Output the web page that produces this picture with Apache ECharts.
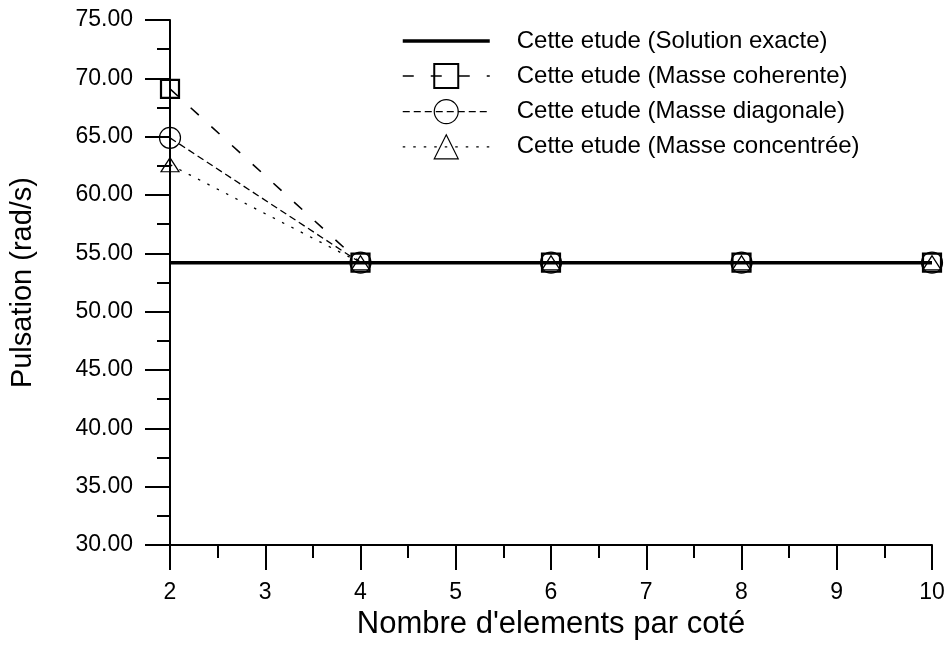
<!DOCTYPE html>
<html>
<head>
<meta charset="utf-8">
<script src="https://cdn.jsdelivr.net/npm/echarts@6/dist/echarts.min.js"></script>
<style>html,body{margin:0;padding:0;background:#fff}#c{width:948px;height:645px}</style>
</head>
<body>
<div id="c"></div>
<script>
const elements = [2, 4, 6, 8, 10];
const exacte = [54.2, 54.2, 54.2, 54.2, 54.2];
const coherente = [69.1, 54.2, 54.2, 54.2, 54.2];
const diagonale = [64.9, 54.2, 54.2, 54.2, 54.2];
const concentree = [62.6, 54.2, 54.2, 54.2, 54.2];
const seriesNames = [
  'Cette etude (Solution exacte)',
  'Cette etude (Masse coherente)',
  'Cette etude (Masse diagonale)',
  'Cette etude (Masse concentrée)'
];
const xTitle = "Nombre d'elements par coté";
const yTitle = 'Pulsation (rad/s)';

const pairs = arr => elements.map((x, i) => [x, arr[i]]);
const FONT = '"Liberation Sans", Arial, sans-serif';
const clear = 'rgba(0,0,0,0)';

const chart = echarts.init(document.getElementById('c'), null, {renderer: 'canvas'});
chart.setOption({
  animation: false,
  backgroundColor: '#fff',
  textStyle: {fontFamily: FONT, color: '#000'},
  grid: {left: 170, right: 16, top: 20, bottom: 93, containLabel: false},
  legend: {
    orient: 'vertical',
    left: 401,
    top: 29,
    padding: 0,
    itemWidth: 87,
    itemHeight: 30,
    itemGap: 10,
    textStyle: {fontFamily: FONT, fontSize: 24, color: '#000', padding: [0, 0, 0, 22]},
    data: [
      {name: seriesNames[0], lineStyle: {width: 3.5}},
      {name: seriesNames[1], lineStyle: {width: 1.5}, itemStyle: {borderWidth: 2}},
      {name: seriesNames[2], lineStyle: {width: 1.2}, itemStyle: {borderWidth: 1.2}},
      {name: seriesNames[3], lineStyle: {width: 1.2}, itemStyle: {borderWidth: 1.2}}
    ]
  },
  xAxis: {
    type: 'value',
    min: 2, max: 10, interval: 1,
    name: xTitle,
    nameLocation: 'middle',
    nameGap: 54,
    nameTextStyle: {fontFamily: FONT, fontSize: 31, color: '#000'},
    axisLine: {show: true, lineStyle: {color: '#000', width: 2}},
    axisTick: {show: true, inside: false, length: 25, lineStyle: {color: '#000', width: 2}},
    minorTick: {show: true, splitNumber: 2, length: 13, lineStyle: {color: '#000', width: 2}},
    splitLine: {show: false},
    axisLabel: {fontFamily: FONT, fontSize: 23, color: '#000', margin: 36}
  },
  yAxis: {
    type: 'value',
    min: 30, max: 75, interval: 5,
    name: yTitle,
    nameLocation: 'middle',
    nameGap: 133,
    nameTextStyle: {fontFamily: FONT, fontSize: 29, color: '#000'},
    axisLine: {show: true, lineStyle: {color: '#000', width: 2}},
    axisTick: {show: true, inside: false, length: 25, lineStyle: {color: '#000', width: 2}},
    minorTick: {show: true, splitNumber: 2, length: 13, lineStyle: {color: '#000', width: 2}},
    splitLine: {show: false},
    axisLabel: {fontFamily: FONT, fontSize: 23, color: '#000', margin: 37, formatter: v => v.toFixed(2)}
  },
  series: [
    {
      name: seriesNames[0], type: 'line', data: pairs(exacte),
      symbol: 'line', showSymbol: false, z: 2,
      itemStyle: {color: '#000'},
      lineStyle: {color: '#000', width: 3.5, type: 'solid'}
    },
    {
      name: seriesNames[1], type: 'line', data: pairs(coherente),
      symbol: 'rect', symbolSize: 18, z: 5,
      itemStyle: {color: clear, borderColor: '#000', borderWidth: 2.2},
      lineStyle: {color: '#000', width: 1.6, type: [11, 17]}
    },
    {
      name: seriesNames[2], type: 'line', data: pairs(diagonale),
      symbol: 'circle', symbolSize: 21, z: 4,
      itemStyle: {color: clear, borderColor: '#000', borderWidth: 1.2},
      lineStyle: {color: '#000', width: 1.3, type: [7, 4]}
    },
    {
      name: seriesNames[3], type: 'line', data: pairs(concentree),
      symbol: 'triangle', symbolSize: [18, 14], z: 3,
      itemStyle: {color: clear, borderColor: '#000', borderWidth: 1.2},
      lineStyle: {color: '#000', width: 1.3, type: [2.5, 8]}
    }
  ]
});
</script>
</body>
</html>
